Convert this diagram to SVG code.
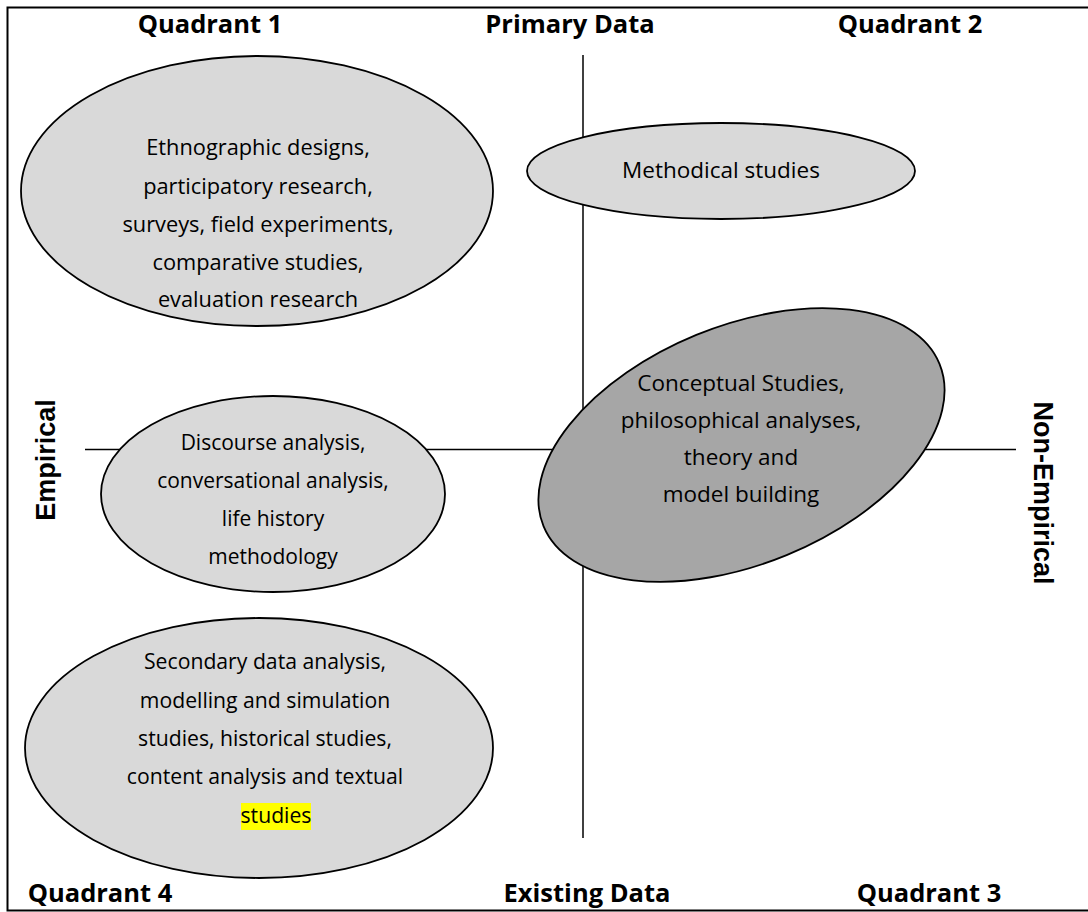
<svg xmlns="http://www.w3.org/2000/svg" width="1088" height="912" viewBox="0 0 1088 912">
<style>
.bg{fill:#ffffff}
.frame{fill:none;stroke:#000;stroke-width:2}
.axis{stroke:#000;stroke-width:1.5;fill:none}
.light{fill:#d9d9d9;stroke:#000;stroke-width:1.8}
.dark{fill:#a6a6a6;stroke:#000;stroke-width:1.8}
.t{font-family:"Open Sans","Noto Sans",sans-serif;font-size:21.5px;fill:#000;text-anchor:middle}
.h{font-family:"Open Sans","Noto Sans",sans-serif;font-size:25.5px;font-weight:bold;fill:#000;text-anchor:middle}
.v{font-family:"Liberation Sans",Arial,sans-serif;font-size:27px;font-weight:bold;fill:#000;text-anchor:middle}
.hl{fill:#ffff00}
</style>
<rect class="bg" x="0" y="0" width="1088" height="912"/>
<path class="frame" d="M1090,7.5 H7.5 V910.5 H1090"/>
<g id="connectors">
<line class="axis" x1="583" y1="55" x2="583" y2="838"/>
<line class="axis" x1="85" y1="449.5" x2="1016" y2="449.5"/>
</g>
<g id="labels">
<text class="h" x="210" y="33">Quadrant 1</text>
<text class="h" x="570" y="33">Primary Data</text>
<text class="h" x="910" y="33">Quadrant 2</text>
<text class="h" x="100" y="902">Quadrant 4</text>
<text class="h" x="587" y="902">Existing Data</text>
<text class="h" x="929" y="902">Quadrant 3</text>
<text class="v" transform="translate(55,460) rotate(-90)">Empirical</text>
<text class="v" transform="translate(1034,493) rotate(90)">Non-Empirical</text>
</g>
<g id="node-q1">
<ellipse class="light" cx="257" cy="191" rx="236" ry="135"/>
<text class="t" x="258" y="155" style="font-size:21.8px">Ethnographic designs,</text>
<text class="t" x="258" y="194" style="font-size:21.8px">participatory research,</text>
<text class="t" x="258" y="232" style="font-size:21.8px">surveys, field experiments,</text>
<text class="t" x="258" y="270" style="font-size:21.8px">comparative studies,</text>
<text class="t" x="258" y="307" style="font-size:21.8px">evaluation research</text>
</g>
<g id="node-methodical">
<ellipse class="light" cx="721" cy="171" rx="194" ry="48"/>
<text class="t" x="721" y="178" style="font-size:22.5px">Methodical studies</text>
</g>
<g id="node-discourse">
<ellipse class="light" cx="273" cy="494" rx="172" ry="98"/>
<text class="t" x="273" y="450" style="font-size:21px">Discourse analysis,</text>
<text class="t" x="273" y="488" style="font-size:21px">conversational analysis,</text>
<text class="t" x="273" y="526" style="font-size:21px">life history</text>
<text class="t" x="273" y="564" style="font-size:21px">methodology</text>
</g>
<g id="node-secondary">
<ellipse class="light" cx="259" cy="748" rx="234" ry="130"/>
<text class="t" x="265" y="669" style="font-size:21.2px">Secondary data analysis,</text>
<text class="t" x="265" y="708" style="font-size:21.2px">modelling and simulation</text>
<text class="t" x="265" y="746" style="font-size:21.2px">studies, historical studies,</text>
<text class="t" x="265" y="784" style="font-size:21.2px">content analysis and textual</text>
<rect class="hl" x="241" y="803" width="70" height="27"/>
<text class="t" x="276" y="823" style="font-size:21.2px">studies</text>
</g>
<g id="node-conceptual">
<ellipse class="dark" cx="741.5" cy="445" rx="214" ry="119" transform="rotate(-22.3 741.5 445)"/>
<text class="t" x="741" y="391" style="font-size:22.5px">Conceptual Studies,</text>
<text class="t" x="741" y="428" style="font-size:22.5px">philosophical analyses,</text>
<text class="t" x="741" y="465" style="font-size:22.5px">theory and</text>
<text class="t" x="741" y="502" style="font-size:22.5px">model building</text>
</g>
</svg>
